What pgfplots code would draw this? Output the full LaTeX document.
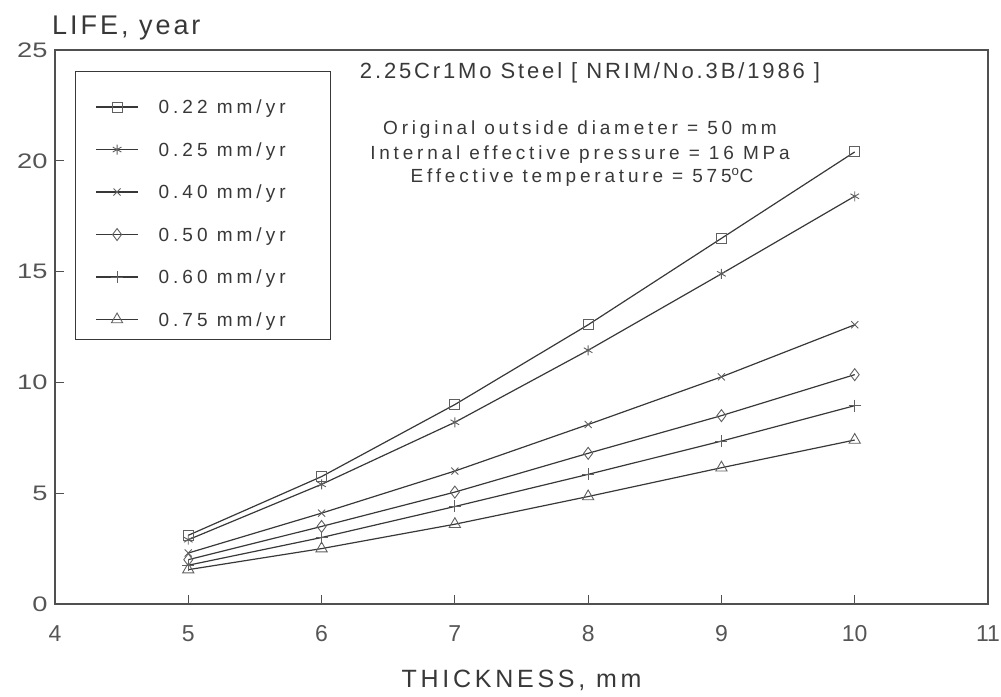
\documentclass[border=0pt]{standalone}
\usepackage{fontspec}
\setmainfont{Liberation Sans}
\newfontfamily\widefont[FakeStretch=1.3]{Liberation Sans}
\newfontfamily\legfont[LetterSpace=21]{Liberation Sans}
\newfontfamily\annfont[LetterSpace=20]{Liberation Sans}
\newfontfamily\titfont[LetterSpace=13]{Liberation Sans}
\newfontfamily\labfont[LetterSpace=11]{Liberation Sans}
\newfontfamily\xlabfont[LetterSpace=15]{Liberation Sans}
\usepackage{pgfplots}
\pgfplotsset{compat=1.18}
\definecolor{ink}{HTML}{383838}
\definecolor{axc}{HTML}{505050}
\definecolor{mk}{HTML}{606060}
\definecolor{tk}{HTML}{555555}

\pgfplotstableread{
x y
5 3.1
6 5.75
7 9.0
8 12.6
9 16.5
10 20.4
}\sA
\pgfplotstableread{
x y
5 2.9
6 5.4
7 8.2
8 11.45
9 14.9
10 18.4
}\sB
\pgfplotstableread{
x y
5 2.3
6 4.1
7 6.0
8 8.1
9 10.25
10 12.6
}\sC
\pgfplotstableread{
x y
5 2.0
6 3.5
7 5.05
8 6.8
9 8.5
10 10.35
}\sD
\pgfplotstableread{
x y
5 1.75
6 3.0
7 4.4
8 5.85
9 7.35
10 8.95
}\sE
\pgfplotstableread{
x y
5 1.55
6 2.5
7 3.6
8 4.85
9 6.15
10 7.4
}\sF

\begin{document}
\begin{tikzpicture}[x=1pt,y=1pt]
\path[use as bounding box] (0,0) rectangle (1001,696);
\begin{axis}[
  at={(55pt,92pt)}, anchor=south west,
  scale only axis, width=933pt, height=554pt,
  xmin=4, xmax=11, ymin=0, ymax=25,
  xtick={4,5,...,11}, ytick={0,5,...,25},
  xtick pos=bottom, ytick pos=left,
  tick align=inside, major tick length=9pt,
  axis line style={axc, line width=1.1pt},
  every tick/.style={axc, line width=1pt},
  /pgf/number format/assume math mode=true,
  xticklabel style={font=\fontsize{23}{26}\selectfont, text=tk, yshift=-18pt},
  yticklabel style={font=\widefont\fontsize{21}{24}\selectfont, text=tk, xshift=-4pt},
  xlabel={THICKNESS, mm},
  ylabel={LIFE, year},
  every axis x label/.style={at={(axis description cs:0.5,0)}, anchor=base, inner sep=0pt, yshift=-83pt, font=\xlabfont\fontsize{25}{28}\selectfont, text=ink},
  every axis y label/.style={at={(axis description cs:0,1)}, anchor=base west, inner sep=0pt, xshift=-3pt, yshift=15pt, font=\labfont\fontsize{27}{30}\selectfont, text=ink},
  legend style={at={(axis description cs:0.0214,0.962)}, anchor=north west,
    draw=ink, line width=1pt, inner xsep=20pt, inner ysep=13pt,
    row sep=13.5pt, font=\legfont\fontsize{19}{22}\selectfont, text=ink,
    nodes={inner sep=0pt, text height=29pt, text depth=0pt},
    /tikz/every odd column/.append style={column sep=20pt}},
  legend cell align=left,
  legend image code/.code={\draw[#1, line width=1.2pt, mark repeat=2, mark phase=2, yshift=-8pt] plot coordinates {(0pt,0pt)(21pt,0pt)(42pt,0pt)};},
]
\addplot[ink, line width=1.2pt, mark=square, mark size=5pt, mark options={mk, solid, line width=0.9pt}] table {\sA};
\addlegendentry{0.22 mm/yr\kern25pt}
\addplot[ink, line width=1.2pt, mark=asterisk, mark size=5pt, mark options={mk, solid, line width=0.9pt}] table {\sB};
\addlegendentry{0.25 mm/yr\kern25pt}
\addplot[ink, line width=1.2pt, mark=x, mark size=5pt, mark options={mk, solid, line width=0.9pt}] table {\sC};
\addlegendentry{0.40 mm/yr\kern25pt}
\addplot[ink, line width=1.2pt, mark=diamond, mark size=6pt, mark options={mk, solid, line width=0.9pt}] table {\sD};
\addlegendentry{0.50 mm/yr\kern25pt}
\addplot[ink, line width=1.2pt, mark=+, mark size=6pt, mark options={mk, solid, line width=0.9pt}] table {\sE};
\addlegendentry{0.60 mm/yr\kern25pt}
\addplot[ink, line width=1.2pt, mark=triangle, mark size=6.5pt, mark options={mk, solid, line width=0.9pt}] table {\sF};
\addlegendentry{0.75 mm/yr\kern25pt}

\node[anchor=base, inner sep=0pt, text=ink, font=\titfont\fontsize{22}{25}\selectfont] at (axis description cs:0.5734,0.9477) {2.25Cr1Mo Steel [ NRIM/No.3B/1986 ]};
\node[anchor=base, inner sep=0pt, text=ink, font=\annfont\fontsize{19}{22}\selectfont] at (axis description cs:0.5627,0.8466) {Original outside diameter = 50 mm};
\node[anchor=base, inner sep=0pt, text=ink, font=\annfont\fontsize{19}{22}\selectfont] at (axis description cs:0.5627,0.8032) {Internal effective pressure = 16 MPa};
\node[anchor=base, inner sep=0pt, text=ink, font=\annfont\fontsize{19}{22}\selectfont] at (axis description cs:0.5648,0.7617) {Effective temperature = 575\textsuperscript{o}C};
\end{axis}
\end{tikzpicture}
\end{document}
